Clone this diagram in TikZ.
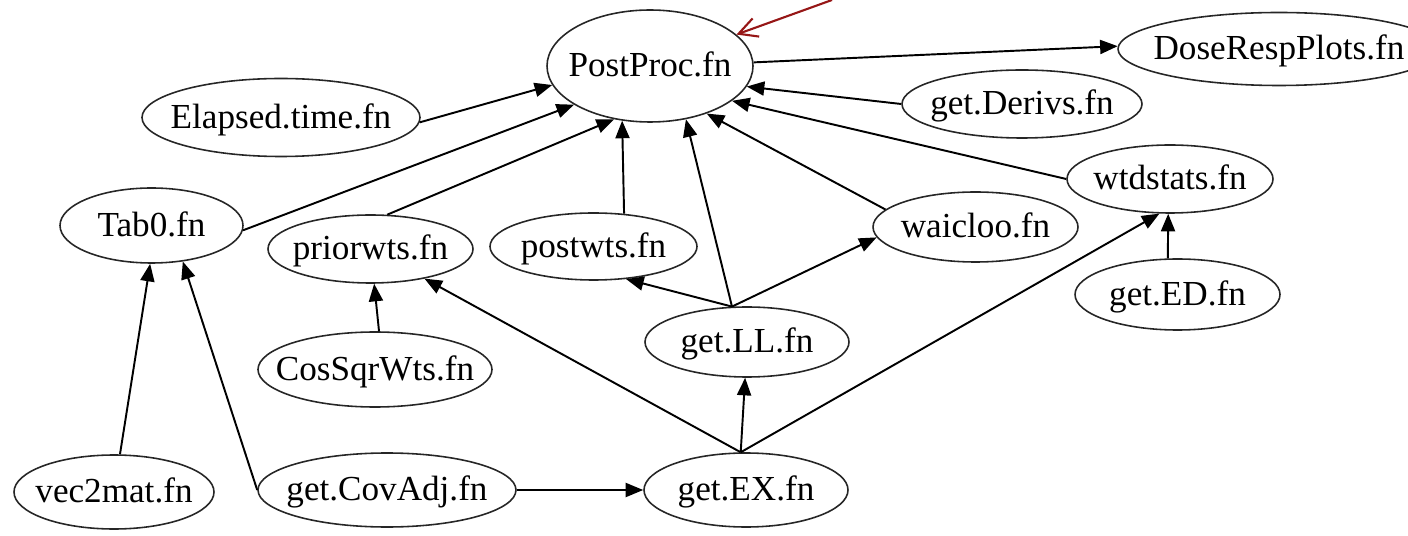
\documentclass[tikz,border=0pt]{standalone}
\usepackage{fontspec}
\setmainfont{Liberation Serif}
\usetikzlibrary{shapes.geometric,arrows.meta}

\definecolor{callred}{RGB}{150,22,22}
\newcommand{\fnlabel}[1]{\makebox[0pt][c]{#1}}

\tikzset{
  fn/.style={ellipse, draw=black!85, line width=0.9pt, fill=white, inner sep=0pt,
             text height=15pt, text depth=2.6pt,
             font=\fontsize{20}{24}\selectfont},
  ewh/.style 2 args={minimum width=#1*0.02cm, minimum height=#2*0.02cm},
  dep/.style={-{Triangle[length=10pt,width=8pt]}, line width=1.1pt, black},
  callout/.style={-{Straight Barb[length=10.5pt,width=11pt,line width=1.2pt]},
                  line width=1.2pt, callred}
}

\begin{document}
\begin{tikzpicture}[x=0.02cm, y=-0.02cm]
\useasboundingbox (0,0) rectangle (1408,536);

% function nodes
\node[fn, ewh={206}{112}] (PostProc) at (650,66)    {\fnlabel{PostProc.fn}};
\node[fn, ewh={322}{73}]  (DoseResp) at (1279,49)   {\fnlabel{DoseRespPlots.fn}};
\node[fn, ewh={278}{78}]  (Elapsed)  at (281,117.5) {\fnlabel{Elapsed.time.fn}};
\node[fn, ewh={240}{68}]  (Derivs)   at (1022,104)  {\fnlabel{get.Derivs.fn}};
\node[fn, ewh={206}{68}]  (wtdstats) at (1170,179)  {\fnlabel{wtdstats.fn}};
\node[fn, ewh={183}{75}]  (Tab0)     at (151.5,225.5) {\fnlabel{Tab0.fn}};
\node[fn, ewh={205}{68}]  (priorwts) at (370.5,249) {\fnlabel{priorwts.fn}};
\node[fn, ewh={207}{67}]  (postwts)  at (593.5,246.5) {\fnlabel{postwts.fn}};
\node[fn, ewh={205}{70}]  (waicloo)  at (975.5,227) {\fnlabel{waicloo.fn}};
\node[fn, ewh={205}{71}]  (getED)    at (1177.5,294.5) {\fnlabel{get.ED.fn}};
\node[fn, ewh={204}{70}]  (getLL)    at (747,342)   {\fnlabel{get.LL.fn}};
\node[fn, ewh={234}{75}]  (CosSqr)   at (375,369.5) {\fnlabel{CosSqrWts.fn}};
\node[fn, ewh={200}{74}]  (vecmat)   at (114,492)   {\fnlabel{vec2mat.fn}};
\node[fn, ewh={258}{74}]  (CovAdj)   at (387,490)   {\fnlabel{get.CovAdj.fn}};
\node[fn, ewh={204}{74}]  (getEX)    at (746,490)   {\fnlabel{get.EX.fn}};

% dependency edges
\draw[dep] (PostProc.2)   -- (DoseResp.179);
\draw[dep] (Elapsed.-2)   -- (PostProc.191);
\draw[dep] (Tab0.-3)      -- (PostProc.207);
\draw[dep] (priorwts.64)  -- (PostProc.236);
\draw[dep] (postwts.47)   -- (PostProc.243);
\draw[dep] (getLL.113)    -- (PostProc.-56);
\draw[dep] (waicloo.169)  -- (PostProc.-40);
\draw[dep] (wtdstats.180) -- (PostProc.-23);
\draw[dep] (Derivs.180)   -- (PostProc.-12);
\draw[dep] (getLL.113)    -- (postwts.-45);
\draw[dep] (getLL.113)    -- (waicloo.186);
\draw[dep] (getEX.98)     -- (getLL.-93);
\draw[dep] (getEX.98)     -- (priorwts);
\draw[dep] (getEX.98)     -- (wtdstats.-107);
\draw[dep] (getED.105)    -- (wtdstats.-93);
\draw[dep] (CosSqr.84)    -- (priorwts.-84);
\draw[dep] (vecmat.81)    -- (Tab0.-92);
\draw[dep] (CovAdj.180)   -- (Tab0.-49);
\draw[dep] (CovAdj.0)     -- (getEX.180);

% pointer onto the PostProc node
\coordinate (calltail) at (832,0);
\draw[callout] (calltail) -- (PostProc.20);
\end{tikzpicture}
\end{document}
